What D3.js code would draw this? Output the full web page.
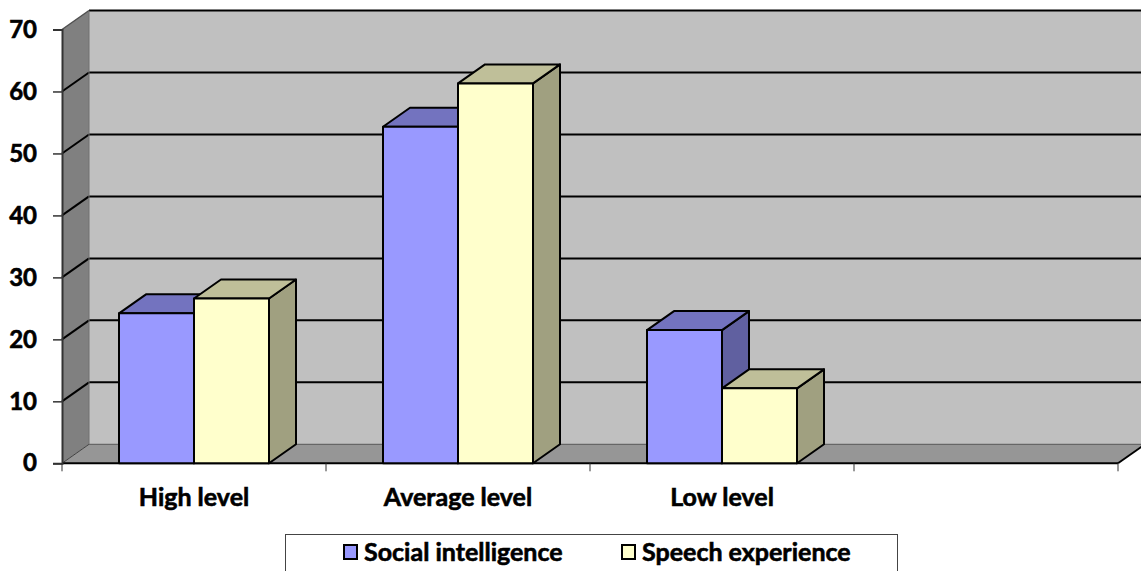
<!DOCTYPE html>
<html>
<head>
<meta charset="utf-8">
<script src="https://cdn.jsdelivr.net/npm/d3@7"></script>
<style>
  html, body { margin: 0; padding: 0; background: #fff; }
  svg { display: block; }
  text { font-family: Lato, "Open Sans", sans-serif; font-weight: bold; fill: #000; stroke: #000; stroke-width: 0.6px; }
</style>
</head>
<body>
<svg id="chart" width="1141" height="571"></svg>
<script>
// ---- data ----
const categories = ["High level", "Average level", "Low level", ""];
const seriesNames = ["Social intelligence", "Speech experience"];
const socialIntelligence = [24.2, 54.3, 21.5];
const speechExperience = [26.6, 61.3, 12.1];
const yTicks = [0, 10, 20, 30, 40, 50, 60, 70];

// ---- layout ----
const W = 1141, H = 571;
const plotLeft = 62, plotRight = 1118, plotTop = 29.5, plotBottom = 463.3;
const dx = 27, dy = -19;
const colors = {
  front: ["#9999FF", "#FFFFCC"],
  top:   ["#7373BF", "#BFBF99"],
  side:  ["#6060A0", "#A0A080"]
};

const svg = d3.select("#chart");
const y = d3.scaleLinear().domain([0, 70]).range([plotBottom, plotTop]);
const x0 = d3.scaleBand().domain(categories).range([plotLeft, plotRight]).paddingInner(0).paddingOuter(0);
const x1 = d3.scaleBand().domain(seriesNames).range([0, x0.bandwidth()]).paddingInner(0).paddingOuter(0.76);

// left wall
svg.append("polygon")
  .attr("points", [[plotLeft, y(70)], [plotLeft + dx, y(70) + dy], [plotLeft + dx, y(0) + dy], [plotLeft, y(0)]].join(" "))
  .attr("fill", "#808080");
// back wall
svg.append("rect")
  .attr("x", plotLeft + dx).attr("y", y(70) + dy)
  .attr("width", W - (plotLeft + dx) + 10).attr("height", y(0) - y(70))
  .attr("fill", "#C0C0C0");
// floor
svg.append("polygon")
  .attr("points", [[plotLeft, y(0)], [plotLeft + dx, y(0) + dy], [plotRight + dx, y(0) + dy], [plotRight, y(0)]].join(" "))
  .attr("fill", "#969696");

// gridlines (back wall + left wall diagonals)
yTicks.forEach(t => {
  if (t === 0) {
    svg.append("line")
      .attr("x1", plotLeft + dx).attr("x2", W + 10)
      .attr("y1", y(0) + dy).attr("y2", y(0) + dy)
      .attr("stroke", "#555").attr("stroke-width", 1);
    svg.append("line")
      .attr("x1", plotLeft).attr("y1", y(0)).attr("x2", plotLeft + dx).attr("y2", y(0) + dy)
      .attr("stroke", "#404040").attr("stroke-width", 1);
    return;
  }
  svg.append("line")
    .attr("x1", plotLeft + dx).attr("x2", W + 10)
    .attr("y1", y(t) + dy).attr("y2", y(t) + dy)
    .attr("stroke", "#000").attr("stroke-width", 2);
  svg.append("line")
    .attr("x1", plotLeft).attr("y1", y(t)).attr("x2", plotLeft + dx).attr("y2", y(t) + dy)
    .attr("stroke", t === 70 ? "#505050" : "#000").attr("stroke-width", t === 70 ? 1.5 : 2);
});
// back wall left edge
svg.append("line")
  .attr("x1", plotLeft + dx).attr("x2", plotLeft + dx)
  .attr("y1", y(70) + dy).attr("y2", y(0) + dy)
  .attr("stroke", "#707070").attr("stroke-width", 1);

// floor edges
svg.append("line")
  .attr("x1", plotLeft).attr("x2", plotRight).attr("y1", y(0)).attr("y2", y(0))
  .attr("stroke", "#000").attr("stroke-width", 2);
svg.append("line")
  .attr("x1", plotRight).attr("y1", y(0)).attr("x2", plotRight + dx).attr("y2", y(0) + dy)
  .attr("stroke", "#000").attr("stroke-width", 2);

// bars
const seriesData = [socialIntelligence, speechExperience];
categories.forEach((cat, ci) => {
  seriesNames.forEach((s, si) => {
    const v = seriesData[si][ci];
    if (v == null) return;
    const bx0 = x0(cat) + x1(s);
    const bx1 = bx0 + x1.bandwidth();
    const yt = y(v), yb = y(0);
    const g = svg.append("g").attr("stroke", "#000").attr("stroke-width", 2).attr("stroke-linejoin", "round");
    g.append("polygon")
      .attr("points", [[bx1, yt], [bx1 + dx, yt + dy], [bx1 + dx, yb + dy], [bx1, yb]].join(" "))
      .attr("fill", colors.side[si]);
    g.append("polygon")
      .attr("points", [[bx0, yt], [bx0 + dx, yt + dy], [bx1 + dx, yt + dy], [bx1, yt]].join(" "))
      .attr("fill", colors.top[si]);
    g.append("rect")
      .attr("x", bx0).attr("y", yt).attr("width", bx1 - bx0).attr("height", yb - yt)
      .attr("fill", colors.front[si]);
  });
});

// y axis
const yAxis = d3.axisLeft(y).tickValues(yTicks).tickSize(9).tickPadding(16).tickFormat(d3.format("d"));
const ya = svg.append("g").attr("transform", `translate(${plotLeft},0)`).call(yAxis);
ya.select(".domain").attr("stroke", "#333").attr("stroke-width", 2);
ya.selectAll(".tick line").attr("stroke", "#333").attr("stroke-width", 1.5);
ya.selectAll(".tick text").attr("font-size", 24).attr("font-family", "Lato, sans-serif").attr("font-weight", "900").attr("fill", "#000");

// x axis
const xAxis = d3.axisBottom(x0).tickSize(8).tickPadding(18);
const xa = svg.append("g").attr("transform", `translate(0,${plotBottom})`).call(xAxis);
xa.select(".domain").remove();
xa.selectAll(".tick line").remove();
categories.concat(["__end"]).forEach((c, i) => {
  const xx = i < categories.length ? x0(c) : plotRight;
  xa.append("line").attr("x1", xx).attr("x2", xx).attr("y1", 0).attr("y2", 8)
    .attr("stroke", "#333").attr("stroke-width", 1);
});
xa.selectAll(".tick text").attr("dy", null).attr("y", 43)
  .attr("font-size", 25).attr("font-family", "Lato, sans-serif").attr("font-weight", "900").attr("fill", "#000");

// legend
const lg = svg.append("g");
lg.append("rect").attr("x", 285.5).attr("y", 534.5).attr("width", 612).attr("height", 50)
  .attr("fill", "#fff").attr("stroke", "#444").attr("stroke-width", 1);
const legendX = [344, 622];
seriesNames.forEach((s, i) => {
  lg.append("rect").attr("x", legendX[i]).attr("y", 545).attr("width", 13).attr("height", 14)
    .attr("fill", colors.front[i]).attr("stroke", "#000").attr("stroke-width", 2);
  lg.append("text").attr("x", legendX[i] + 20).attr("y", 561).attr("font-size", 25).attr("font-weight", "900").text(s);
});
</script>
</body>
</html>
